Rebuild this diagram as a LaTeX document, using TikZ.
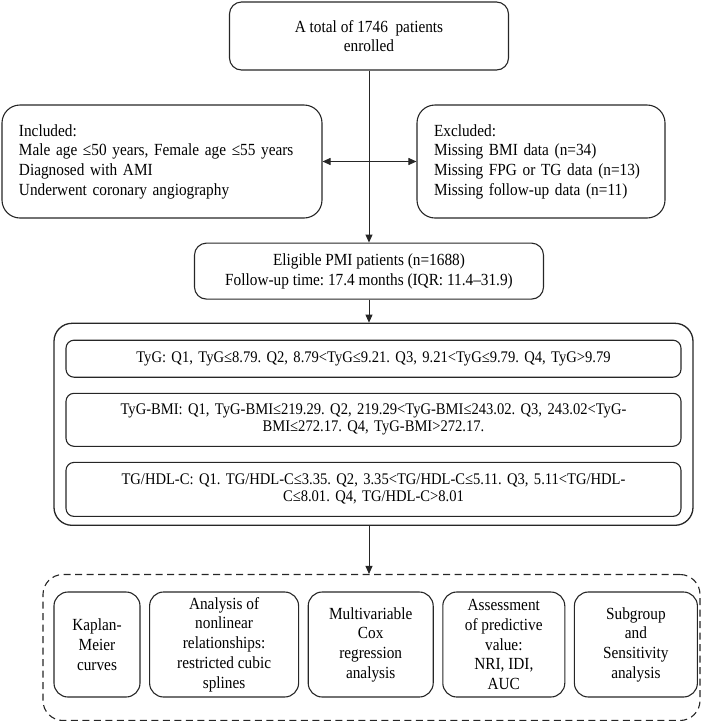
\documentclass[tikz,border=0pt]{standalone}
\usepackage{fontspec}
\setmainfont[FakeStretch=0.9]{Liberation Serif}
\frenchspacing
\usetikzlibrary{arrows.meta, positioning}

\begin{document}
\begin{tikzpicture}[
        x=1pt, y=1pt,
        node distance=8.5pt,
        box/.style={rectangle, rounded corners=12pt, draw=black!85, line width=1.1pt, align=center, inner sep=0pt, font=\fontsize{17}{19.7}\selectfont},
        sidebox/.style={box, rounded corners=18pt, minimum width=320pt, minimum height=113pt, text width=286pt, align=left},
        groupbox/.style={box, rounded corners=8pt, minimum width=615pt, text width=595pt, font=\fontsize{16.2}{17}\selectfont},
        taskbox/.style={box, rounded corners=14pt, minimum height=105pt},
        arr/.style={-{Triangle[length=8pt, width=7pt]}, line width=0.9pt, draw=black!85},
        dbl/.style={{Triangle[length=8pt, width=7pt]}-{Triangle[length=8pt, width=7pt]}, line width=0.9pt, draw=black!85}
    ]
        \useasboundingbox (0,0) rectangle (702,-721);

        % Enrolment
        \node[box, minimum width=279pt, minimum height=68pt] (total) at (369,-36) {A total of 1746\ \ patients\\enrolled};
        \node[sidebox] (incl) at (162,-161.5) {Included:\\Male age ≤50 years, Female age ≤55 years\\Diagnosed with AMI\\Underwent coronary angiography};
        \node[sidebox, minimum width=248pt, text width=214pt] (excl) at (541,-161.5) {Excluded:\\Missing BMI data (n=34)\\Missing FPG or TG data (n=13)\\Missing follow-up data (n=11)};
        \node[box, below=172pt of total, minimum width=349pt, minimum height=56pt] (elig) {Eligible PMI patients (n=1688)\\Follow-up time: 17.4 months (IQR: 11.4–31.9)};

        \draw[arr] (total) -- (elig);
        \draw[dbl] (incl) -- (excl);

        % Quartile groups
        \node[box, rounded corners=18pt, line width=1.3pt, minimum width=639pt, minimum height=202pt, below=23pt of elig, xshift=4.5pt] (groups) {};
        \node[groupbox, minimum height=37pt, below=17pt of groups.north] (tyg) {TyG: Q1, TyG≤8.79. Q2, 8.79<TyG≤9.21. Q3, 9.21<TyG≤9.79. Q4, TyG>9.79};
        \node[groupbox, minimum height=53pt, below=15pt of tyg] (tygbmi) {TyG-BMI: Q1, TyG-BMI≤219.29. Q2, 219.29<TyG-BMI≤243.02. Q3, 243.02<TyG-\\BMI≤272.17. Q4, TyG-BMI>272.17.};
        \node[groupbox, minimum height=54pt, below=15pt of tygbmi] (tghdl) {TG/HDL-C: Q1. TG/HDL-C≤3.35. Q2, 3.35<TG/HDL-C≤5.11. Q3, 5.11<TG/HDL-\\C≤8.01. Q4, TG/HDL-C>8.01};

        \draw[arr] (elig.south) -- (elig.south |- groups.north);

        % Analyses
        \node[box, dashed, dash pattern=on 7pt off 4.5pt, rounded corners=20pt, minimum width=657pt, minimum height=146pt, below=48pt of groups, xshift=-2pt] (analyses) {};
        \node[taskbox, minimum width=86pt] (km) at (97,-644.5) {Kaplan-\\Meier\\curves};
        \node[taskbox, minimum width=149pt, right=of km] (rcs) {Analysis of\\nonlinear\\relationships:\\restricted cubic\\splines};
        \node[taskbox, minimum width=125pt, right=of rcs] (cox) {Multivariable\\Cox\\regression\\analysis};
        \node[taskbox, minimum width=122pt, right=of cox] (pred) {Assessment\\of predictive\\value:\\NRI, IDI,\\AUC};
        \node[taskbox, minimum width=123pt, right=of pred] (subgrp) {Subgroup\\and\\Sensitivity\\analysis};

        \draw[arr] (groups.south -| elig.south) -- (analyses.north -| elig.south);

    \end{tikzpicture}
\end{document}
